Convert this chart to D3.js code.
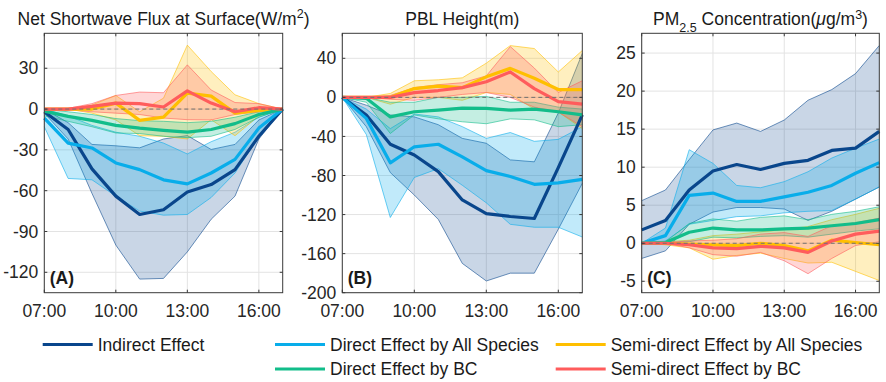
<!DOCTYPE html>
<html>
<head>
<meta charset="utf-8">
<script src="https://cdn.jsdelivr.net/npm/d3@7"></script>
<style>
body { margin: 0; background: #fff; }
svg { font-family: "Liberation Sans", Arial, sans-serif; }
</style>
</head>
<body>
<div id="chart"></div>
<script>
// hours of the day (07:00 - 17:00)
var hours = [7, 8, 9, 10, 11, 12, 13, 14, 15, 16, 17];
var hourTicks = [7, 10, 13, 16];

var seriesNames = ["Indirect Effect", "Direct Effect by All Species", "Semi-direct Effect by All Species",
    "Direct Effect by BC", "Semi-direct Effect by BC"];
var seriesColors = ["#09468c", "#08adea", "#ffbf00", "#12bd8a", "#ff5c5c"];

// (A) net shortwave flux at surface
var swIndirect      = [-2, -15, -44, -64, -77.5, -74, -61, -55.5, -44.5, -20, 0];
var swIndirectLow   = [-3, -22, -62, -100, -125, -124.5, -105, -81, -64, -22, 0];
var swIndirectHigh  = [0, -10, -26, -27, -28.5, -22, -19.5, -29.7, -26, -8, 0];
var swDirect        = [-6.6, -25, -28.6, -39.6, -44.5, -52, -55, -47, -37, -14, 0];
var swDirectLow     = [-13, -51, -52, -64, -75, -78, -77.5, -65, -47, -20, 0];
var swDirectHigh    = [0, -5, -12, -17, -20, -25, -33, -24, -17, -6, 0];
var swSemi          = [0, 0, 0, 4.4, -8.3, -5.9, 11.7, 9.5, -3, -1, 0];
var swSemiLow       = [0, 0, -3, -8, -19.6, -20, -22, -7.8, -19.6, -5, 0];
var swSemiHigh      = [0, 0, 3, 10, -2, 8, 47, 27.6, 10.5, 4, 0];
var swBcDirect      = [-1.5, -5.4, -8.3, -12, -14, -15.6, -17, -15, -10.7, -4, 0];
var swBcDirectLow   = [-5, -9, -13, -17.6, -18, -20, -21, -20, -15, -6, 0];
var swBcDirectHigh  = [0, -2, -4, -7, -8.5, -9, -10, -9, -6, -2, 0];
var swBcSemi        = [0, 0, 2, 4.4, 4, 1.5, 13.4, 4.4, -2, 1, 0];
var swBcSemiLow     = [0, -0.5, -2, -3, -4, -6.6, -7.8, -8, -4, -2, 0];
var swBcSemiHigh    = [0, 0.5, 4, 10, 12.5, 12, 32.5, 14, 4.8, 4, 0];

// (B) PBL height
var pblIndirect     = [0, -18, -48, -59, -76, -105, -119, -122, -124, -72, -18];
var pblIndirectLow  = [0, -30, -77, -100, -125, -170, -188, -180, -180, -135, -88];
var pblIndirectHigh = [0, -8, -18, -20, -28, -42, -47, -64, -66, -16, 45];
var pblDirect       = [0, -21.5, -67, -50.6, -48, -61, -75, -81, -89, -87.5, -84];
var pblDirectLow    = [0, -38, -123, -82, -73, -90, -108, -130, -133, -133, -143];
var pblDirectHigh   = [0, -12, -32, -17, -20, -30, -42, -36, -45, -43, -30];
var pblSemi         = [0, 0, 0, 9, 11.6, 10, 21, 29.7, 19.5, 8, 8];
var pblSemiLow      = [0, 0, -7, 0, 0, -3, 5, 3, -12, -15, -32];
var pblSemiHigh     = [0, 0, 4, 17, 18, 20, 35, 53, 50, 26, 48];
var pblBcDirect     = [0, -1, -20, -14.7, -13, -11, -11.3, -13, -12, -14.7, -18];
var pblBcDirectLow  = [0, -5, -37, -18, -22, -25, -27, -22, -23, -30, -28];
var pblBcDirectHigh = [0, 0, -5, -5, 0, 0, 1, -5, -5, -10, -12];
var pblBcSemi       = [0, 0, 0, 4.8, 7, 10, 16, 26, 9, -4.4, -7];
var pblBcSemiLow    = [0, 0, -2, -3, 0, 3, 5, 0, -10, -15, -30];
var pblBcSemiHigh   = [0, 0, 2, 10, 13, 15, 22, 52, 30, 5, 17];

// (C) PM2.5 concentration
var pmIndirect      = [1.76, 3, 7, 9.5, 10.35, 9.7, 10.5, 10.9, 12.2, 12.5, 14.7];
var pmIndirectLow   = [-2, -1, 2.5, 4.1, 4.7, 4.7, 4.5, 3, 4.2, 5.8, 7.4];
var pmIndirectHigh  = [5.6, 7, 11, 14.9, 15.8, 14.7, 16.2, 18.8, 20.2, 22.3, 26];
var pmDirect        = [0, 1, 6.3, 6.6, 5.5, 5.5, 6.1, 6.7, 7.6, 9.2, 10.6];
var pmDirectLow     = [0, 0.3, 2.5, 3, 3.5, 3.6, 4, 4.2, 4.3, 5.8, 7.4];
var pmDirectHigh    = [0, 2, 12.3, 10.5, 7.6, 7.3, 8.1, 9.4, 11.2, 12.5, 13.7];
var pmSemi          = [0, 0, -0.1, -0.2, -0.3, 0, -0.3, -1.0, 0.4, 0.1, -0.2];
var pmSemiLow       = [0, -0.2, -0.6, -2.1, -1.6, -1.3, -2.0, -2.6, -2.5, -3.7, -4.9];
var pmSemiHigh      = [0, 0.2, 0.4, 1.0, 1.2, 1.5, 1.8, 2.2, 3.1, 3.8, 4.6];
var pmBcDirect      = [0, 0.1, 1.45, 2.0, 1.75, 1.75, 1.9, 2.0, 2.3, 2.6, 3.1];
var pmBcDirectLow   = [0, 0, 0.2, 0.8, 0.7, 0.9, 1.0, 0.8, 1.2, 1.6, 1.9];
var pmBcDirectHigh  = [0, 0.2, 2.6, 3.2, 2.9, 3.4, 3.6, 3.1, 3.8, 4.2, 4.8];
var pmBcSemi        = [0, 0, -0.2, -0.6, -0.7, -0.4, -0.6, -1.2, 0.3, 1.2, 1.6];
var pmBcSemiLow     = [0, 0, -0.6, -1.5, -1.7, -1.2, -2.3, -4.0, -2.0, -0.3, 0.2];
var pmBcSemiHigh    = [0, 0.1, 0.3, 0.4, 0.6, 1.2, 1.4, 0.9, 2.3, 2.7, 3.3];


var W = 886, H = 382;
var fontSize = 17.5;

var svg = d3.select("#chart").append("svg")
    .attr("width", W)
    .attr("height", H);


bandPanel = function(_opts){
    this.opts = _opts;
    this.initVis();
}

bandPanel.prototype.initVis = function() {
    var vis = this;
    var o = vis.opts;

    vis.top = 33.3;
    vis.bottom = 292.7;

    vis.x = d3.scaleLinear()
        .domain([7, 17])
        .range([o.left, o.right]);

    vis.y = d3.scaleLinear()
        .domain(o.yDomain)
        .range([vis.bottom, vis.top]);

    vis.g = svg.append("g");

    // grid
    vis.g.append("g").selectAll("line.gx")
        .data(hourTicks)
        .enter().append("line")
        .attr("x1", function(d){ return vis.x(d); })
        .attr("x2", function(d){ return vis.x(d); })
        .attr("y1", vis.top).attr("y2", vis.bottom)
        .attr("stroke", "#e3e3e3").attr("stroke-width", 1);

    vis.g.append("g").selectAll("line.gy")
        .data(o.yTicks)
        .enter().append("line")
        .attr("x1", o.left).attr("x2", o.right)
        .attr("y1", function(d){ return vis.y(d); })
        .attr("y2", function(d){ return vis.y(d); })
        .attr("stroke", "#e3e3e3").attr("stroke-width", 1);

    vis.updateVis();
}

bandPanel.prototype.updateVis = function() {
    var vis = this;
    var o = vis.opts;

    var area = d3.area()
        .x(function(d){ return vis.x(d.h); })
        .y0(function(d){ return vis.y(d.lo); })
        .y1(function(d){ return vis.y(d.hi); });

    var line = d3.line()
        .x(function(d){ return vis.x(d.h); })
        .y(function(d){ return vis.y(d.v); });

    var rows = o.series.map(function(s){
        return hours.map(function(h, i){
            return { h: h, v: s[0][i], lo: s[1][i], hi: s[2][i] };
        });
    });

    // shaded ranges
    rows.forEach(function(r, k){
        vis.g.append("path")
            .datum(r)
            .attr("d", area)
            .attr("fill", seriesColors[k])
            .attr("fill-opacity", k == 0 ? 0.22 : 0.25)
            .attr("stroke", "none");
        ["lo", "hi"].forEach(function(key){
            vis.g.append("path")
                .datum(r)
                .attr("d", d3.line()
                    .x(function(d){ return vis.x(d.h); })
                    .y(function(d){ return vis.y(d[key]); }))
                .attr("fill", "none")
                .attr("stroke", seriesColors[k])
                .attr("stroke-opacity", 0.65)
                .attr("stroke-width", 0.9);
        });
    });

    // mean lines
    rows.forEach(function(r, k){
        vis.g.append("path")
            .datum(r)
            .attr("d", line)
            .attr("fill", "none")
            .attr("stroke", seriesColors[k])
            .attr("stroke-width", 3.2)
            .attr("stroke-linejoin", "round");
    });

    // zero reference
    vis.g.append("line")
        .attr("x1", o.left).attr("x2", o.right)
        .attr("y1", vis.y(0)).attr("y2", vis.y(0))
        .attr("stroke", "#707070")
        .attr("stroke-width", 1)
        .attr("stroke-dasharray", "4,3");

    // box
    vis.g.append("rect")
        .attr("x", o.left).attr("y", vis.top)
        .attr("width", o.right - o.left)
        .attr("height", vis.bottom - vis.top)
        .attr("fill", "none")
        .attr("stroke", "#3a3a3a")
        .attr("stroke-width", 1);

    // inward ticks
    var tk = 3;
    o.yTicks.forEach(function(t){
        vis.g.append("line").attr("x1", o.left).attr("x2", o.left + tk)
            .attr("y1", vis.y(t)).attr("y2", vis.y(t)).attr("stroke", "#3a3a3a");
        vis.g.append("line").attr("x1", o.right).attr("x2", o.right - tk)
            .attr("y1", vis.y(t)).attr("y2", vis.y(t)).attr("stroke", "#3a3a3a");
    });
    hourTicks.forEach(function(t){
        vis.g.append("line").attr("y1", vis.bottom).attr("y2", vis.bottom - tk)
            .attr("x1", vis.x(t)).attr("x2", vis.x(t)).attr("stroke", "#3a3a3a");
        vis.g.append("line").attr("y1", vis.top).attr("y2", vis.top + tk)
            .attr("x1", vis.x(t)).attr("x2", vis.x(t)).attr("stroke", "#3a3a3a");
    });

    // tick labels
    vis.g.selectAll("text.ylab")
        .data(o.yTicks)
        .enter().append("text")
        .attr("x", o.left - 6)
        .attr("y", function(d){ return vis.y(d); })
        .attr("dy", "0.35em")
        .attr("text-anchor", "end")
        .attr("font-size", fontSize)
        .attr("fill", "#262626")
        .text(function(d){ return d; });

    vis.g.selectAll("text.xlab")
        .data(hourTicks)
        .enter().append("text")
        .attr("x", function(d){ return vis.x(d); })
        .attr("y", 316.5)
        .attr("text-anchor", "middle")
        .attr("font-size", fontSize)
        .attr("fill", "#262626")
        .text(function(d){ return (d < 10 ? "0" : "") + d + ":00"; });

    // panel tag
    vis.g.append("text")
        .attr("x", o.left + 5.5)
        .attr("y", 283.5)
        .attr("font-size", fontSize)
        .attr("font-weight", "bold")
        .attr("fill", "#1a1a1a")
        .text(o.tag);

    // title
    var title = vis.g.append("text")
        .attr("x", (o.left + o.right) / 2)
        .attr("y", 25)
        .attr("text-anchor", "middle")
        .attr("font-size", fontSize)
        .attr("fill", "#1a1a1a");
    o.title.forEach(function(p){
        var ts = title.append("tspan").text(p.t);
        if (p.dy) ts.attr("dy", p.dy);
        if (p.size) ts.attr("font-size", p.size);
        if (p.italic) ts.attr("font-style", "italic");
    });
}


new bandPanel({
    left: 44.3, right: 282.7,
    yDomain: [-135, 55.7],
    yTicks: [-120, -90, -60, -30, 0, 30],
    tag: "(A)",
    title: [{t: "Net Shortwave Flux at Surface(W/m"}, {t: "2", dy: -7.5, size: 12.5}, {t: ")", dy: 7.5}],
    series: [[swIndirect, swIndirectLow, swIndirectHigh],
             [swDirect, swDirectLow, swDirectHigh],
             [swSemi, swSemiLow, swSemiHigh],
             [swBcDirect, swBcDirectLow, swBcDirectHigh],
             [swBcSemi, swBcSemiLow, swBcSemiHigh]]
});

new bandPanel({
    left: 342.3, right: 582.3,
    yDomain: [-200, 65.6],
    yTicks: [-200, -160, -120, -80, -40, 0, 40],
    tag: "(B)",
    title: [{t: "PBL Height(m)"}],
    series: [[pblIndirect, pblIndirectLow, pblIndirectHigh],
             [pblDirect, pblDirectLow, pblDirectHigh],
             [pblSemi, pblSemiLow, pblSemiHigh],
             [pblBcDirect, pblBcDirectLow, pblBcDirectHigh],
             [pblBcSemi, pblBcSemiLow, pblBcSemiHigh]]
});

new bandPanel({
    left: 641.7, right: 879.3,
    yDomain: [-6.5, 27.6],
    yTicks: [-5, 0, 5, 10, 15, 20, 25],
    tag: "(C)",
    title: [{t: "PM"}, {t: "2.5", dy: 6.5, size: 12.5}, {t: " Concentration(", dy: -6.5},
            {t: "\u03bc", italic: true}, {t: "g/m"}, {t: "3", dy: -6.5, size: 12.5}, {t: ")", dy: 6.5}],
    series: [[pmIndirect, pmIndirectLow, pmIndirectHigh],
             [pmDirect, pmDirectLow, pmDirectHigh],
             [pmSemi, pmSemiLow, pmSemiHigh],
             [pmBcDirect, pmBcDirectLow, pmBcDirectHigh],
             [pmBcSemi, pmBcSemiLow, pmBcSemiHigh]]
});


// legend
var legendPos = [
    {x: 42.7, y: 344.5},
    {x: 275, y: 344.5},
    {x: 555.7, y: 344.5},
    {x: 275, y: 369},
    {x: 555.7, y: 369}
];

var legend = svg.append("g").attr("class", "legend");
legendPos.forEach(function(p, k){
    legend.append("line")
        .attr("x1", p.x).attr("x2", p.x + 50)
        .attr("y1", p.y).attr("y2", p.y)
        .attr("stroke", seriesColors[k])
        .attr("stroke-width", 3);
    legend.append("text")
        .attr("x", p.x + 55)
        .attr("y", p.y)
        .attr("dy", "0.35em")
        .attr("font-size", fontSize)
        .attr("fill", "#1a1a1a")
        .text(seriesNames[k]);
});
</script>
</body>
</html>
